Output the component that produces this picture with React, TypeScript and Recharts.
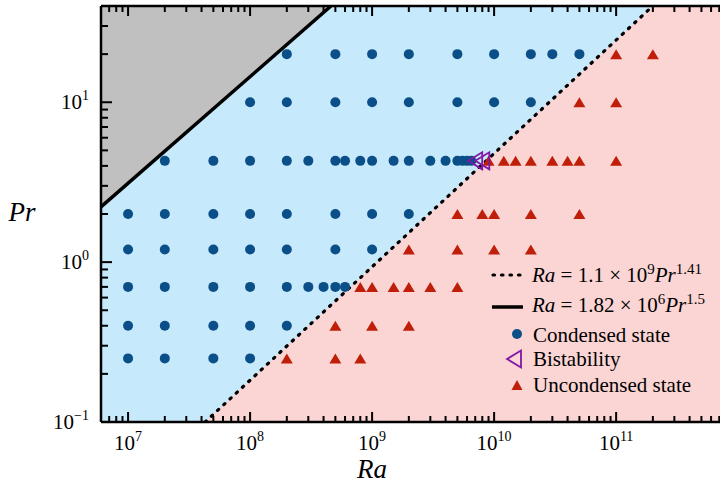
import React from 'react';
import {
  ComposedChart,
  XAxis,
  YAxis,
  Scatter,
  Line,
  Area,
  ReferenceArea,
  Legend,
  Label,
} from 'recharts';

const SERIF = "'Liberation Serif', 'Times New Roman', serif";

// axes (both logarithmic)
const RA_DOMAIN = [6e6, 7.1e11];
const PR_DOMAIN = [0.1, 40];
const RA_MAJOR = [1e7, 1e8, 1e9, 1e10, 1e11];
const RA_EXPONENTS = ['7', '8', '9', '10', '11'];
const PR_MAJOR = [0.1, 1, 10];
const PR_EXPONENTS = ['\u22121', '0', '1'];

// regime boundaries, Ra = c * Pr^n
const DASHED_FIT = [1.1e9, 1.41];
const SOLID_FIT = [1.82e6, 1.5];

// simulated cases, one list of Ra per Pr row
const PR_ROWS = [20, 10, 4.3, 2, 1.2, 0.7, 0.4, 0.25];
const CONDENSED_RA = [
  [2e8, 5e8, 1e9, 2e9, 5e9, 1e10, 2e10, 3e10, 5e10],
  [1e8, 2e8, 5e8, 1e9, 2e9, 5e9, 1e10, 2e10],
  [2e7, 5e7, 1e8, 2e8, 3e8, 5e8, 6e8, 8e8, 1e9, 1.5e9, 2e9, 3e9, 4e9, 5e9, 5.5e9, 6e9, 6.5e9],
  [1e7, 2e7, 5e7, 1e8, 2e8, 5e8, 1e9, 2e9],
  [1e7, 2e7, 5e7, 1e8, 2e8, 5e8, 1e9],
  [1e7, 2e7, 5e7, 1e8, 2e8, 3e8, 4e8, 5e8, 6e8],
  [1e7, 2e7, 5e7, 1e8, 2e8],
  [1e7, 2e7, 5e7, 1e8],
];
const UNCONDENSED_RA = [
  [1e11, 2e11],
  [5e10, 1e11],
  [9e9, 1.2e10, 1.5e10, 2e10, 3e10, 4e10, 5e10, 1e11],
  [5e9, 8e9, 1e10, 2e10, 5e10],
  [2e9, 5e9, 1e10, 2e10],
  [8e8, 1e9, 1.5e9, 2e9, 3e9, 5e9],
  [5e8, 1e9, 2e9],
  [2e8, 5e8, 8e8],
];
const BISTABLE_RA = [7e9, 8e9];
const BISTABLE_PR = [4.3, 4.3];

const C_CONDENSED = '#0b4f88';
const C_UNCONDENSED = '#bf1e08';
const C_BISTABLE = '#8216a8';
const C_BLUE = '#c7e9fc';
const C_PINK = '#fbd4d4';
const C_GRAY = '#c0c0c0';

const toPoints = (rows: number[][]) =>
  rows.flatMap((list, i) => list.map((ra) => ({ ra, pr: PR_ROWS[i] })));

const condensed = toPoints(CONDENSED_RA);
const uncondensed = toPoints(UNCONDENSED_RA);
const bistable = BISTABLE_RA.map((ra, i) => ({ ra, pr: BISTABLE_PR[i] }));

const raOnFit = (fit: number[], pr: number) => fit[0] * Math.pow(pr, fit[1]);
const prOnFit = (fit: number[], ra: number) => Math.pow(ra / fit[0], 1 / fit[1]);

const dashedLine = [
  { ra: raOnFit(DASHED_FIT, PR_DOMAIN[0]), pr: PR_DOMAIN[0] },
  { ra: raOnFit(DASHED_FIT, PR_DOMAIN[1]), pr: PR_DOMAIN[1] },
];
const blueRegion = [{ ra: RA_DOMAIN[0], pr: PR_DOMAIN[0] }, ...dashedLine];
const solidLine = [
  { ra: RA_DOMAIN[0], pr: prOnFit(SOLID_FIT, RA_DOMAIN[0]) },
  { ra: raOnFit(SOLID_FIT, PR_DOMAIN[1]), pr: PR_DOMAIN[1] },
];

const minorTicks = (decades: number[], lo: number, hi: number) =>
  decades
    .flatMap((d) => [2, 3, 4, 5, 6, 7, 8, 9].map((k) => k * d))
    .filter((v) => v >= lo && v <= hi);

const RA_TICKS = [...RA_MAJOR, ...minorTicks([1e6, 1e7, 1e8, 1e9, 1e10, 1e11], RA_DOMAIN[0], RA_DOMAIN[1])];
const PR_TICKS = [...PR_MAJOR, ...minorTicks([0.1, 1, 10], PR_DOMAIN[0], PR_DOMAIN[1] - 1e-9)];

const TICK_W = 2;

const BottomTick = ({ x, y, payload }: any) => {
  const idx = RA_MAJOR.indexOf(payload.value);
  return (
    <g>
      <line x1={x} x2={x} y1={y} y2={y - (idx >= 0 ? 10 : 6)} stroke="#000" strokeWidth={TICK_W} />
      {idx >= 0 && (
        <text x={x} y={y + 28} textAnchor="middle" fontFamily={SERIF} fontSize={21} fill="#000">
          10<tspan dy={-9} fontSize={14}>{RA_EXPONENTS[idx]}</tspan>
        </text>
      )}
    </g>
  );
};

const TopTick = ({ x, y, payload }: any) => {
  const major = RA_MAJOR.indexOf(payload.value) >= 0;
  return <line x1={x} x2={x} y1={y} y2={y + (major ? 10 : 6)} stroke="#000" strokeWidth={TICK_W} />;
};

const LeftTick = ({ x, y, payload }: any) => {
  const idx = PR_MAJOR.indexOf(payload.value);
  return (
    <g>
      <line x1={x} x2={x + (idx >= 0 ? 11 : 7)} y1={y} y2={y} stroke="#000" strokeWidth={TICK_W} />
      {idx >= 0 && (
        <text x={x - 12} y={y + 7} textAnchor="end" fontFamily={SERIF} fontSize={21} fill="#000">
          10<tspan dy={-9} fontSize={14}>{PR_EXPONENTS[idx]}</tspan>
        </text>
      )}
    </g>
  );
};

const RightTick = ({ x, y, payload }: any) => {
  const major = PR_MAJOR.indexOf(payload.value) >= 0;
  return <line x1={x} x2={x - (major ? 11 : 7)} y1={y} y2={y} stroke="#000" strokeWidth={TICK_W} />;
};

const Dot = ({ cx, cy, fill = C_CONDENSED }: any) => <circle cx={cx} cy={cy} r={5} fill={fill} />;

const UpTriangle = ({ cx, cy, w = 12, h = 10 }: any) => (
  <polygon
    points={`${cx - w / 2},${cy + h / 2} ${cx + w / 2},${cy + h / 2} ${cx},${cy - h / 2}`}
    fill={C_UNCONDENSED}
  />
);

const LeftTriangle = ({ cx, cy, w = 14, h = 17 }: any) => (
  <polygon
    points={`${cx - w / 2},${cy} ${cx + w / 2},${cy - h / 2} ${cx + w / 2},${cy + h / 2}`}
    fill="none"
    stroke={C_BISTABLE}
    strokeWidth={1.8}
  />
);

const LegendBox = () => {
  const text = { fontFamily: SERIF, fontSize: 21, fill: '#000' };
  return (
    <svg width={240} height={145} style={{ display: 'block', overflow: 'visible' }}>
      <line
        x1={13}
        x2={43}
        y1={17}
        y2={17}
        stroke="#000"
        strokeWidth={3.2}
        strokeDasharray="1.5 7"
        strokeLinecap="round"
      />
      <text x={52} y={24} {...text}>
        <tspan fontStyle="italic">Ra</tspan> = 1.1 × 10<tspan dy={-8} fontSize={15}>9</tspan>
        <tspan dy={8} fontStyle="italic">Pr</tspan>
        <tspan dy={-8} fontSize={15}>1.41</tspan>
      </text>
      <line x1={12} x2={43} y1={49} y2={49} stroke="#000" strokeWidth={3.5} />
      <text x={52} y={54} {...text}>
        <tspan fontStyle="italic">Ra</tspan> = 1.82 × 10<tspan dy={-8} fontSize={15}>6</tspan>
        <tspan dy={8} fontStyle="italic">Pr</tspan>
        <tspan dy={-8} fontSize={15}>1.5</tspan>
      </text>
      <Dot cx={37} cy={76} />
      <text x={53} y={84} {...text}>Condensed state</text>
      <LeftTriangle cx={34} cy={101} />
      <text x={53} y={108} {...text}>Bistability</text>
      <UpTriangle cx={37} cy={127} w={11} h={10} />
      <text x={53} y={134} {...text}>Uncondensed state</text>
    </svg>
  );
};

const xAxisCommon = {
  type: 'number' as const,
  scale: 'log' as const,
  dataKey: 'ra',
  domain: RA_DOMAIN,
  allowDataOverflow: true,
  ticks: RA_TICKS,
  interval: 0,
  tickSize: 0,
  tickMargin: 0,
  tickLine: false,
  axisLine: { stroke: '#000', strokeWidth: 2.5 },
};

const yAxisCommon = {
  type: 'number' as const,
  scale: 'log' as const,
  dataKey: 'pr',
  domain: PR_DOMAIN,
  allowDataOverflow: true,
  ticks: PR_TICKS,
  interval: 0,
  tickSize: 0,
  tickMargin: 0,
  tickLine: false,
  axisLine: { stroke: '#000', strokeWidth: 2.5 },
};

export default function App() {
  return (
    <div style={{ position: 'absolute', left: 0, top: 0, width: 720, height: 483, background: '#fff' }}>
      <ComposedChart width={720} height={483} margin={{ top: 0, right: 0, bottom: 0, left: 0 }}>
        <ReferenceArea
          xAxisId="b"
          yAxisId="l"
          x1={RA_DOMAIN[0]}
          x2={RA_DOMAIN[1]}
          y1={PR_DOMAIN[0]}
          y2={PR_DOMAIN[1]}
          fill={C_PINK}
          fillOpacity={1}
          stroke="none"
        />
        <Area
          xAxisId="b"
          yAxisId="l"
          data={blueRegion}
          dataKey="pr"
          type="linear"
          baseValue={PR_DOMAIN[1]}
          fill={C_BLUE}
          fillOpacity={1}
          stroke="none"
          isAnimationActive={false}
        />
        <Area
          xAxisId="b"
          yAxisId="l"
          data={solidLine}
          dataKey="pr"
          type="linear"
          baseValue={PR_DOMAIN[1]}
          fill={C_GRAY}
          fillOpacity={1}
          stroke="none"
          isAnimationActive={false}
        />
        <Line
          xAxisId="b"
          yAxisId="l"
          data={dashedLine}
          dataKey="pr"
          type="linear"
          stroke="#000"
          strokeWidth={3.2}
          strokeDasharray="1.5 7"
          strokeLinecap="round"
          dot={false}
          isAnimationActive={false}
        />
        <Line
          xAxisId="b"
          yAxisId="l"
          data={solidLine}
          dataKey="pr"
          type="linear"
          stroke="#000"
          strokeWidth={3.5}
          dot={false}
          isAnimationActive={false}
        />
        <Scatter
          xAxisId="b"
          yAxisId="l"
          name="Condensed state"
          data={condensed}
          dataKey="pr"
          shape={(p: any) => <Dot cx={p.cx} cy={p.cy} />}
          isAnimationActive={false}
        />
        <Scatter
          xAxisId="b"
          yAxisId="l"
          name="Uncondensed state"
          data={uncondensed}
          dataKey="pr"
          shape={(p: any) => <UpTriangle cx={p.cx} cy={p.cy} />}
          isAnimationActive={false}
        />
        <Scatter
          xAxisId="b"
          yAxisId="l"
          name="Bistability"
          data={bistable}
          dataKey="pr"
          shape={(p: any) => <LeftTriangle cx={p.cx} cy={p.cy} />}
          isAnimationActive={false}
        />
        <XAxis xAxisId="b" orientation="bottom" height={61} tick={<BottomTick />} {...xAxisCommon}>
          <Label
            content={() => (
              <text x={372} y={478} textAnchor="middle" fontFamily={SERIF} fontSize={27} fontStyle="italic" fill="#000">
                Ra
              </text>
            )}
          />
        </XAxis>
        <XAxis xAxisId="t" orientation="top" height={6} tick={<TopTick />} {...xAxisCommon} />
        <YAxis yAxisId="l" orientation="left" width={101} tick={<LeftTick />} {...yAxisCommon}>
          <Label
            content={() => (
              <text x={22} y={221} textAnchor="middle" fontFamily={SERIF} fontSize={27} fontStyle="italic" fill="#000">
                Pr
              </text>
            )}
          />
        </YAxis>
        <YAxis yAxisId="r" orientation="right" width={0} tick={<RightTick />} {...yAxisCommon} />
        <Legend
          verticalAlign="middle"
          align="center"
          layout="horizontal"
          content={<LegendBox />}
          wrapperStyle={{ left: 480, top: 258, width: 240, height: 145 }}
        />
      </ComposedChart>
    </div>
  );
}
